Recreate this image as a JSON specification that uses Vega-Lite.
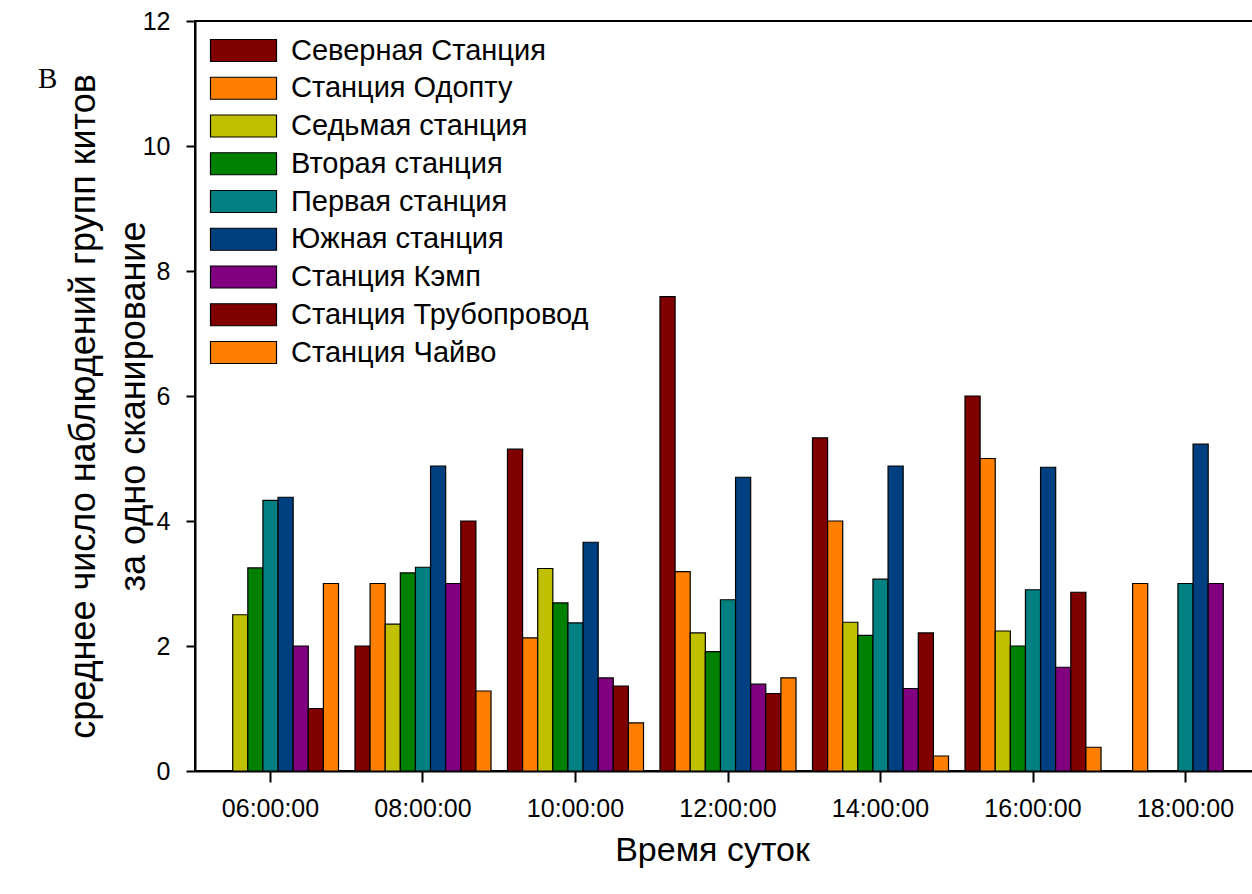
{
  "$schema": "https://vega.github.io/schema/vega-lite/v6.json",
  "width": 1058,
  "height": 750,
  "autosize": "none",
  "padding": {"left": 195, "top": 21, "right": 0, "bottom": 123},
  "background": "white",
  "view": {"stroke": "black", "strokeWidth": 2, "fill": null},
  "title": {
    "text": "В",
    "anchor": "start",
    "frame": "group",
    "font": "Liberation Serif",
    "fontSize": 29,
    "fontWeight": "normal",
    "color": "black",
    "baseline": "alphabetic",
    "dx": -157,
    "dy": 112
  },
  "data": {
    "values": [
      {"time": "06:00:00", "station": "Седьмая станция", "value": 2.5},
      {"time": "06:00:00", "station": "Вторая станция", "value": 3.25},
      {"time": "06:00:00", "station": "Первая станция", "value": 4.33},
      {"time": "06:00:00", "station": "Южная станция", "value": 4.38},
      {"time": "06:00:00", "station": "Станция Кэмп", "value": 2.0},
      {"time": "06:00:00", "station": "Станция Трубопровод", "value": 1.0},
      {"time": "06:00:00", "station": "Станция Чайво", "value": 3.0},

      {"time": "08:00:00", "station": "Северная Станция", "value": 2.0},
      {"time": "08:00:00", "station": "Станция Одопту", "value": 3.0},
      {"time": "08:00:00", "station": "Седьмая станция", "value": 2.35},
      {"time": "08:00:00", "station": "Вторая станция", "value": 3.17},
      {"time": "08:00:00", "station": "Первая станция", "value": 3.26},
      {"time": "08:00:00", "station": "Южная станция", "value": 4.88},
      {"time": "08:00:00", "station": "Станция Кэмп", "value": 3.0},
      {"time": "08:00:00", "station": "Станция Трубопровод", "value": 4.0},
      {"time": "08:00:00", "station": "Станция Чайво", "value": 1.28},

      {"time": "10:00:00", "station": "Северная Станция", "value": 5.15},
      {"time": "10:00:00", "station": "Станция Одопту", "value": 2.13},
      {"time": "10:00:00", "station": "Седьмая станция", "value": 3.24},
      {"time": "10:00:00", "station": "Вторая станция", "value": 2.69},
      {"time": "10:00:00", "station": "Первая станция", "value": 2.37},
      {"time": "10:00:00", "station": "Южная станция", "value": 3.66},
      {"time": "10:00:00", "station": "Станция Кэмп", "value": 1.49},
      {"time": "10:00:00", "station": "Станция Трубопровод", "value": 1.36},
      {"time": "10:00:00", "station": "Станция Чайво", "value": 0.77},

      {"time": "12:00:00", "station": "Северная Станция", "value": 7.59},
      {"time": "12:00:00", "station": "Станция Одопту", "value": 3.19},
      {"time": "12:00:00", "station": "Седьмая станция", "value": 2.21},
      {"time": "12:00:00", "station": "Вторая станция", "value": 1.91},
      {"time": "12:00:00", "station": "Первая станция", "value": 2.74},
      {"time": "12:00:00", "station": "Южная станция", "value": 4.7},
      {"time": "12:00:00", "station": "Станция Кэмп", "value": 1.39},
      {"time": "12:00:00", "station": "Станция Трубопровод", "value": 1.24},
      {"time": "12:00:00", "station": "Станция Чайво", "value": 1.49},

      {"time": "14:00:00", "station": "Северная Станция", "value": 5.33},
      {"time": "14:00:00", "station": "Станция Одопту", "value": 4.0},
      {"time": "14:00:00", "station": "Седьмая станция", "value": 2.38},
      {"time": "14:00:00", "station": "Вторая станция", "value": 2.17},
      {"time": "14:00:00", "station": "Первая станция", "value": 3.07},
      {"time": "14:00:00", "station": "Южная станция", "value": 4.88},
      {"time": "14:00:00", "station": "Станция Кэмп", "value": 1.32},
      {"time": "14:00:00", "station": "Станция Трубопровод", "value": 2.21},
      {"time": "14:00:00", "station": "Станция Чайво", "value": 0.24},

      {"time": "16:00:00", "station": "Северная Станция", "value": 6.0},
      {"time": "16:00:00", "station": "Станция Одопту", "value": 5.0},
      {"time": "16:00:00", "station": "Седьмая станция", "value": 2.24},
      {"time": "16:00:00", "station": "Вторая станция", "value": 2.0},
      {"time": "16:00:00", "station": "Первая станция", "value": 2.9},
      {"time": "16:00:00", "station": "Южная станция", "value": 4.86},
      {"time": "16:00:00", "station": "Станция Кэмп", "value": 1.66},
      {"time": "16:00:00", "station": "Станция Трубопровод", "value": 2.86},
      {"time": "16:00:00", "station": "Станция Чайво", "value": 0.38},

      {"time": "18:00:00", "station": "Станция Одопту", "value": 3.0},
      {"time": "18:00:00", "station": "Первая станция", "value": 3.0},
      {"time": "18:00:00", "station": "Южная станция", "value": 5.23},
      {"time": "18:00:00", "station": "Станция Кэмп", "value": 3.0}
    ]
  },
  "mark": {"type": "bar", "stroke": "black", "strokeWidth": 1.2},
  "encoding": {
    "x": {
      "field": "time",
      "type": "nominal",
      "sort": null,
      "scale": {"range": [0, 1066], "paddingInner": 0.108, "paddingOuter": 0.049},
      "axis": {
        "title": "Время суток",
        "titleFont": "Liberation Sans",
        "titleFontSize": 34,
        "titleFontWeight": "normal",
        "titleColor": "black",
        "titleX": 517,
        "titlePadding": 12,
        "labelFont": "Liberation Sans",
        "labelFontSize": 25,
        "labelColor": "black",
        "labelAngle": 0,
        "labelPadding": 14,
        "tickSize": 11,
        "tickWidth": 2,
        "tickColor": "black",
        "domainColor": "black",
        "domainWidth": 2
      }
    },
    "xOffset": {
      "field": "station",
      "type": "nominal",
      "scale": {
        "domain": ["Северная Станция", "Станция Одопту", "Седьмая станция", "Вторая станция", "Первая станция", "Южная станция", "Станция Кэмп", "Станция Трубопровод", "Станция Чайво"],
        "paddingInner": 0,
        "paddingOuter": 0
      }
    },
    "y": {
      "field": "value",
      "type": "quantitative",
      "scale": {"domain": [0, 12], "nice": false},
      "axis": {
        "values": [0, 2, 4, 6, 8, 10, 12],
        "grid": false,
        "title": ["среднее число наблюдений групп китов", "за одно сканирование"],
        "titleFont": "Liberation Sans",
        "titleFontSize": 36,
        "titleFontWeight": "normal",
        "titleColor": "black",
        "titleLineHeight": 50,
        "titleAlign": "center",
        "titleX": -93,
        "titleY": 385,
        "titleBaseline": "bottom",
        "labelFont": "Liberation Sans",
        "labelFontSize": 25,
        "labelColor": "black",
        "labelPadding": 16,
        "tickSize": 9,
        "tickWidth": 2,
        "tickColor": "black",
        "domainColor": "black",
        "domainWidth": 2
      }
    },
    "color": {
      "field": "station",
      "type": "nominal",
      "scale": {
        "domain": ["Северная Станция", "Станция Одопту", "Седьмая станция", "Вторая станция", "Первая станция", "Южная станция", "Станция Кэмп", "Станция Трубопровод", "Станция Чайво"],
        "range": ["#800000", "#ff8000", "#c0c000", "#008000", "#008080", "#004080", "#800080", "#800000", "#ff8000"]
      },
      "legend": {
        "title": null,
        "orient": "none",
        "legendX": 34,
        "legendY": 15,
        "symbolType": "M-3,-1H3V1H-3Z",
        "symbolSize": 484,
        "symbolStrokeColor": "black",
        "symbolStrokeWidth": 1.2,
        "symbolOpacity": 1,
        "labelFont": "Liberation Sans",
        "labelFontSize": 29,
        "labelColor": "black",
        "labelOffset": 33,
        "rowPadding": 7.75,
        "labelLimit": 500
      }
    }
  }
}
